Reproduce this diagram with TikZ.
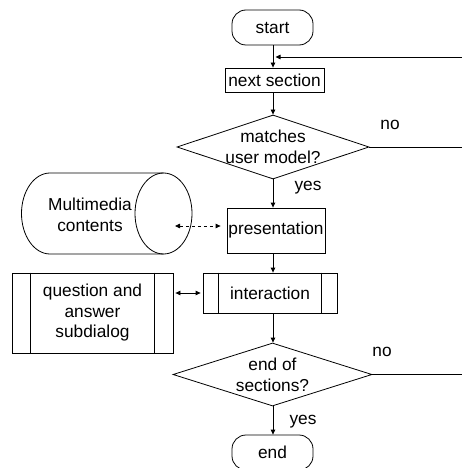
\documentclass[tikz,border=0pt]{standalone}
\usepackage{fontspec}
\setmainfont{Liberation Sans}
\usetikzlibrary{arrows.meta,shapes.geometric}

\begin{document}
\begin{tikzpicture}[x=1pt,y=-1pt,
  line width=0.8pt,
  font=\fontsize{17.3}{20.5}\selectfont,
  >={Triangle[length=5pt,width=4.5pt]},
  box/.style={draw, rectangle, inner sep=0pt, align=center},
  terminal/.style={draw, rectangle, rounded corners=14pt,
    minimum width=81pt, minimum height=35pt, inner sep=0pt},
  decision/.style={draw, diamond, inner sep=0pt},
  txt/.style={align=center, inner sep=0pt},
  flow/.style={->},
]
\useasboundingbox (0,0) rectangle (462,468);

% main column
\coordinate (ax) at (273,0);

\node[terminal] (start) at (272.5,27.5) {start};
\node[box, minimum width=99pt, minimum height=24pt] (next) at (274.5,80) {next section};
\node[decision, minimum width=192pt, minimum height=64pt] (d1) at (273,147) {};
\node[txt] (d1t) at (273,147) {matches\\user model?};
\node[box, minimum width=98pt, minimum height=45pt] (pres) at (276,230.5) {presentation};
\node[box, minimum width=134pt, minimum height=40pt] (inter) at (270,293) {interaction};
\node[decision, minimum width=199pt, minimum height=63pt] (d2) at (272.5,374.5) {};
\node[txt] (d2t) at (272.5,375) {end of\\sections?};
\node[terminal] (end) at (272.5,452.5) {end};

% predefined-process strips
\draw ([xshift=16pt]inter.north west) -- ([xshift=16pt]inter.south west);
\draw ([xshift=-16pt]inter.north east) -- ([xshift=-16pt]inter.south east);

\node[box, minimum width=161pt, minimum height=80pt] (qa) at (92.5,313) {question and\\answer\\subdialog};
\draw ([xshift=19pt]qa.north west) -- ([xshift=19pt]qa.south west);
\draw ([xshift=-19pt]qa.north east) -- ([xshift=-19pt]qa.south east);

% multimedia store drawn as a horizontal cylinder
\draw (50,173) -- (163.5,173)
      (50,254) -- (163.5,254)
      (50,173) arc[start angle=90, end angle=270, x radius=28.5pt, y radius=40.5pt];
\draw (163.5,213.5) ellipse[x radius=28.5pt, y radius=40.5pt];
\node[txt] (mm) at (90,215) {Multimedia\\contents};
\coordinate (mmport) at (175,226);

% flow arrows along the main column
\draw[flow] (start.south -| ax) -- (next.north -| ax);
\draw[flow] (next.south -| ax) -- (d1.north -| ax);
\draw[flow] (d1.south -| ax) -- (pres.north -| ax);
\draw[flow] (pres.south -| ax) -- (inter.north -| ax);
\draw[flow] (inter.south -| ax) -- (d2.north -| ax);
\draw[flow] (d2.south -| ax) -- (end.north -| ax);

% side connections
\draw[<->, dashed, shorten >=6pt] (mmport) -- (pres.west |- mmport);
\draw[<->] ([xshift=2pt]qa.east |- inter) -- ([xshift=-2pt]inter.west);

% loop-back lines leaving the right edge
\coordinate (back) at (462,57);
\coordinate (no1end) at (462,147);
\coordinate (no2end) at (462,374.5);
\draw[flow] (back) -- ([xshift=2.5pt]ax |- back);
\draw (d1.east) -- (no1end);
\draw (d2.east) -- (no2end);

% branch labels
\node[txt] (no1) at (390,125) {no};
\node[txt] (yes1) at (308,188) {yes};
\node[txt] (no2) at (382,352) {no};
\node[txt] (yes2) at (303,422) {yes};
\end{tikzpicture}
\end{document}
